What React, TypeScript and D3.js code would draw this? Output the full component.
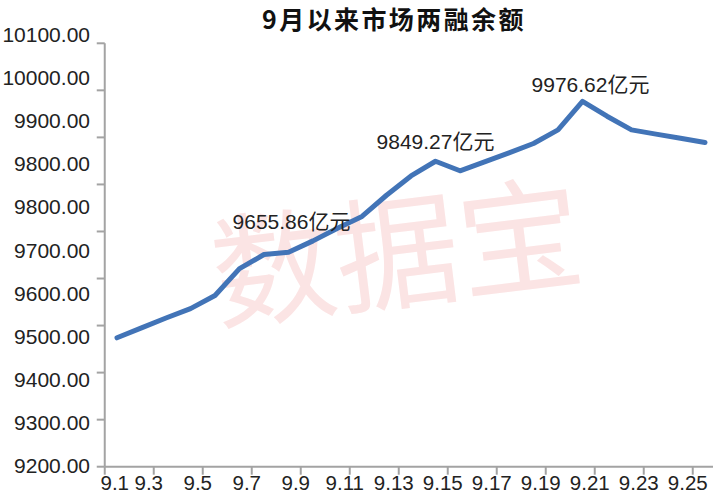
import React from "react";
import * as d3 from "d3";

const title = "9月以来市场两融余额";
const watermark = "数据宝";

const days = [
  "9.1", "9.2", "9.3", "9.4", "9.5", "9.6", "9.7", "9.8", "9.9", "9.10",
  "9.11", "9.12", "9.13", "9.14", "9.15", "9.16", "9.17", "9.18", "9.19", "9.20",
  "9.21", "9.22", "9.23", "9.24", "9.25",
];
const balance = [
  9474, 9495, 9516, 9536, 9564, 9621, 9651, 9655.86, 9680, 9707,
  9732, 9777, 9818, 9849.27, 9829, 9848, 9867, 9887, 9916, 9976.62,
  9945, 9916, 9907, 9898, 9889,
];
const xTickLabels = ["9.1", "9.3", "9.5", "9.7", "9.9", "9.11", "9.13", "9.15", "9.17", "9.19", "9.21", "9.23", "9.25"];
const yTickValues = [9200, 9300, 9400, 9500, 9600, 9700, 9800, 9900, 10000, 10100];
const yTickLabels = [
  "10100.00", "10000.00", "9900.00", "9800.00", "9800.00", "9700.00",
  "9600.00", "9500.00", "9400.00", "9300.00", "9200.00",
];
const annotations = [
  { index: 7, text: "9655.86亿元" },
  { index: 13, text: "9849.27亿元" },
  { index: 19, text: "9976.62亿元" },
];

const W = 720;
const H = 500;
const LATIN = "'Liberation Sans', Arial, 'Noto Sans CJK SC', sans-serif";
const CJK = "'Noto Sans CJK SC', sans-serif";

export default function App() {
  const x = d3.scaleLinear().domain([0, days.length - 1]).range([117, 705]);
  const y = d3.scaleLinear().domain([9200, 10100]).range([466.7, 43.3]);
  const labelY = d3.scaleLinear().domain([0, yTickLabels.length - 1]).range([34.5, 465.5]);

  const line = d3
    .line<number>()
    .x((_, i) => x(i))
    .y((d) => y(d))
    .curve(d3.curveLinear);

  const axisX = x(-0.5);
  const axisY = y(9200);
  const axisEnd = x(days.length - 1) + 8;
  const axisColor = "#a3a3a3";

  const annOffsets = [
    { dx: 3, dy: -23 },
    { dx: 0, dy: -12 },
    { dx: 8, dy: -9 },
  ];

  return (
    <svg
      width={W}
      height={H}
      viewBox={`0 0 ${W} ${H}`}
      style={{ position: "absolute", left: 0, top: 0, background: "#fff" }}
    >
      <rect x={0} y={0} width={W} height={H} fill="#fff" />
      {/* watermark */}
      <text
        x={396}
        y={245}
        transform="rotate(-7 396 245)"
        textAnchor="middle"
        dominantBaseline="central"
        fontFamily={CJK}
        fontSize={124}
        fontWeight={400}
        fill="#fbe4e4"
      >
        {watermark}
      </text>

      {/* title */}
      <text
        x={394}
        y={29}
        textAnchor="middle"
        fontFamily={CJK}
        fontSize={25}
        fontWeight={700}
        letterSpacing={2.4}
        fill="#111"
      >
        {title}
      </text>

      {/* y axis */}
      <line x1={axisX} x2={axisX} y1={y(10100)} y2={axisY} stroke={axisColor} strokeWidth={2} />
      {yTickValues.map((v) => (
        <line key={v} x1={axisX - 8} x2={axisX} y1={y(v)} y2={y(v)} stroke={axisColor} strokeWidth={2} />
      ))}
      {yTickLabels.map((t, i) => (
        <text
          key={i}
          x={90}
          y={labelY(i)}
          dy="0.36em"
          textAnchor="end"
          fontFamily={LATIN}
          fontSize={21}
          fill="#222"
        >
          {t}
        </text>
      ))}

      {/* x axis */}
      <line x1={axisX} x2={axisEnd} y1={axisY} y2={axisY} stroke={axisColor} strokeWidth={2} />
      {xTickLabels.map((t, i) => {
        const tx = x(2 * i - 0.5);
        return <line key={i} x1={tx} x2={tx} y1={axisY} y2={axisY + 8} stroke={axisColor} strokeWidth={2} />;
      })}
      {xTickLabels.map((t, i) => {
        const tx = i === 0 ? axisX + 10 : x(2 * i - 0.5) - 5;
        return (
          <text
            key={t}
            x={tx}
            y={490}
            textAnchor="middle"
            fontFamily={LATIN}
            fontSize={20.5}
            fill="#222"
          >
            {t}
          </text>
        );
      })}

      {/* line */}
      <path
        d={line(balance) || ""}
        fill="none"
        stroke="#4274b7"
        strokeWidth={5}
        strokeLinejoin="round"
        strokeLinecap="round"
      />

      {/* annotations */}
      {annotations.map((a, k) => (
        <text
          key={a.text}
          x={x(a.index) + annOffsets[k].dx}
          y={y(balance[a.index]) + annOffsets[k].dy}
          textAnchor="middle"
          fontFamily={LATIN}
          fontSize={21}
          fill="#222"
        >
          {a.text}
        </text>
      ))}
    </svg>
  );
}
